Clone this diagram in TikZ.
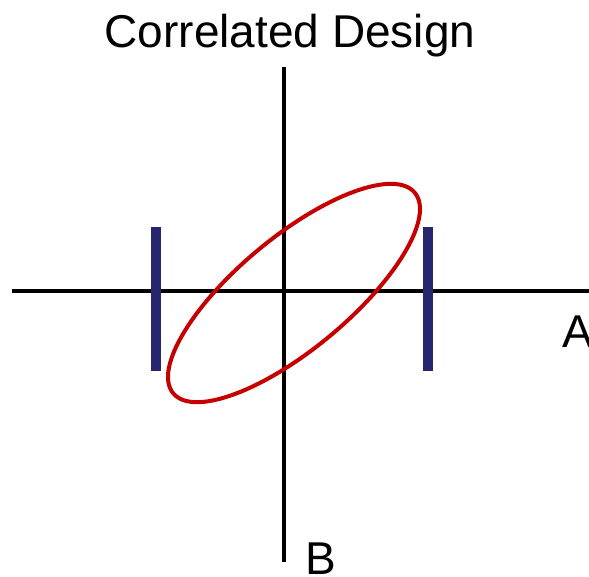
\documentclass[tikz,border=0pt]{standalone}
\usepackage{fontspec}
\setmainfont{Liberation Sans}
\definecolor{barblue}{RGB}{38,38,112}
\definecolor{ellred}{RGB}{198,0,0}
\begin{document}
\begin{tikzpicture}[x=1pt,y=-1pt,
  axis/.style={line width=4.5pt,black},
  bar/.style={line width=10pt,barblue},
  ell/.style={line width=4pt,ellred},
  lab/.style={inner sep=0pt,font=\fontsize{46}{46}\selectfont}]
\useasboundingbox (0,0) rectangle (589,576);
\coordinate (hl) at (12,291);
\coordinate (hr) at (589,291);
\coordinate (vt) at (284,67);
\coordinate (vb) at (284,562);
\coordinate (b1t) at (156,227);
\coordinate (b1b) at (156,371);
\coordinate (b2t) at (428,227);
\coordinate (b2b) at (428,371);
\coordinate (c) at (294,293);
\draw[axis] (hl) -- (hr);
\draw[axis] (vt) -- (vb);
\draw[bar] (b1t) -- (b1b);
\draw[bar] (b2t) -- (b2b);
\draw[ell,rotate around={39.7:(c)}] (c) ellipse [x radius=157pt, y radius=56pt];
\node[lab,anchor=base] (title) at (290,47) {Correlated Design};
\node[lab,anchor=base west] (A) at (562,347) {A};
\node[lab,anchor=base west] (B) at (305,574) {B};
\end{tikzpicture}
\end{document}
